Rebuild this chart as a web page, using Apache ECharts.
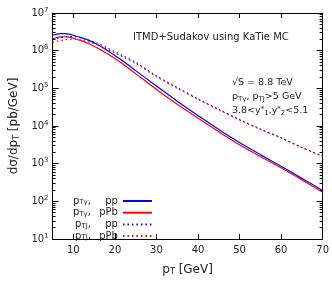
<!DOCTYPE html>
<html>
<head>
<meta charset="utf-8">
<script src="https://cdn.jsdelivr.net/npm/echarts@6/dist/echarts.min.js"></script>
<style>
  html, body { margin: 0; padding: 0; background: #fff; }
  #chart { width: 332px; height: 281px; }
</style>
</head>
<body>
<div id="chart"></div>
<script>
// pT values (GeV)
var ptValues = [5, 6, 7, 8, 9, 10, 12, 14, 16, 18, 20, 22, 25, 30, 35, 40, 45, 50, 55, 60, 65, 70];
// log10 of dsigma/dpT [pb/GeV]
var gammaPP  = [6.41, 6.44, 6.455, 6.455, 6.44, 6.41, 6.34, 6.26, 6.15, 6.02, 5.87, 5.72, 5.47, 5.06, 4.66, 4.28, 3.91, 3.56, 3.24, 2.93, 2.61, 2.29];
var gammaPPb = [6.32, 6.35, 6.365, 6.37, 6.36, 6.33, 6.26, 6.17, 6.06, 5.93, 5.79, 5.64, 5.39, 4.97, 4.58, 4.21, 3.85, 3.50, 3.19, 2.89, 2.57, 2.24];
var jetPP    = [6.30, 6.33, 6.35, 6.37, 6.375, 6.375, 6.34, 6.27, 6.19, 6.08, 5.97, 5.86, 5.69, 5.33, 5.02, 4.72, 4.44, 4.17, 3.92, 3.69, 3.43, 3.20];
var jetPPb   = [6.22, 6.25, 6.27, 6.29, 6.30, 6.305, 6.28, 6.22, 6.15, 6.05, 5.94, 5.83, 5.66, 5.31, 5.00, 4.71, 4.43, 4.16, 3.91, 3.68, 3.43, 3.19];
var xTicks = [10, 20, 30, 40, 50, 60, 70];

function toPairs(logs) {
  var out = [];
  for (var i = 0; i < ptValues.length; i++) {
    out.push([ptValues[i], Math.pow(10, logs[i])]);
  }
  return out;
}

var chart = echarts.init(document.getElementById("chart"));
var font = "DejaVu Sans";
var legendNames = {
  gpp: "{p|p}{sub|Tγ}{p|,}{c|pp}",
  gppb: "{p|p}{sub|Tγ}{p|,}{c|pPb}",
  jpp: "{p|p}{sub|TJ}{p|,}{c|pp}",
  jppb: "{p|p}{sub|TJ}{p|,}{c|pPb}"
};

function mkSeries(name, logs, color, dotted) {
  return {
    name: name,
    type: "line",
    data: toPairs(logs),
    showSymbol: false,
    symbol: "none",
    smooth: 0.3,
    lineStyle: { color: color, width: 1.2, type: dotted ? [1.5, 3] : "solid" },
    itemStyle: { color: color }
  };
}

var option = {
  animation: false,
  textStyle: { fontFamily: font },
  grid: { left: 47, right: 8, top: 13, bottom: 36 },
  title: {
    text: "ITMD+Sudakov using KaTie MC",
    left: 128, top: 27,
    textStyle: { fontFamily: font, fontSize: 10, fontWeight: "normal", color: "#222" }
  },
  graphic: [{
    type: "text",
    left: 232, top: 76,
    style: {
      text: "{p|√S = 8.8 TeV}\n{p|p}{s|Tγ}{p|, p}{s|TJ}{p|>5 GeV}\n{p|3.8<y}{u|*}{s|1}{p|,y}{u|*}{s|2}{p|<5.1}",
      fontFamily: font,
      fill: "#222",
      lineHeight: 14,
      rich: {
        p: { fontSize: 9.5, fontFamily: font, fill: "#222" },
        s: { fontSize: 7, fontFamily: font, fill: "#222", padding: [4, 0, 0, 0] },
        u: { fontSize: 7, fontFamily: font, fill: "#222", padding: [0, 0, 4, 0] }
      }
    }
  }],
  legend: {
    orient: "vertical",
    left: 68, top: 191,
    align: "right",
    itemWidth: 29, itemHeight: 8, itemGap: 1.7,
    itemStyle: { opacity: 0 },
    formatter: function (n) { return legendNames[n]; },
    textStyle: {
      fontFamily: font, fontSize: 10, color: "#222",
      rich: {
        p: { fontSize: 10, color: "#222" },
        sub: { fontSize: 7, color: "#222", padding: [3, 0, 0, 0] },
        c: { fontSize: 10, color: "#222", width: 27, align: "right" }
      }
    }
  },
  xAxis: [{
    type: "value",
    min: 5, max: 70,
    name: "{p|p}{s|T}{p| [GeV]}",
    nameLocation: "middle",
    nameGap: 24,
    nameTextStyle: {
      rich: {
        p: { fontSize: 12, color: "#222", fontFamily: font },
        s: { fontSize: 8, color: "#222", fontFamily: font, padding: [5, 0, 0, 0] }
      }
    },
    axisLine: { lineStyle: { color: "#000", width: 1 } },
    axisTick: { inside: true, length: 5, customValues: xTicks, lineStyle: { color: "#000" } },
    axisLabel: { customValues: xTicks, fontSize: 10, color: "#222", margin: 6 },
    splitLine: { show: false }
  }, {
    type: "value",
    position: "top",
    min: 5, max: 70,
    axisLine: { show: true, lineStyle: { color: "#000", width: 1 } },
    axisTick: { inside: true, length: 5, customValues: xTicks, lineStyle: { color: "#000" } },
    axisLabel: { show: false },
    splitLine: { show: false }
  }],
  yAxis: [{
    type: "log",
    min: 10, max: 1e7,
    name: "{p|dσ/dp}{s|T}{p| [pb/GeV]}",
    nameLocation: "middle",
    nameGap: 31,
    nameRotate: 90,
    nameTextStyle: {
      rich: {
        p: { fontSize: 12, color: "#222", fontFamily: font },
        s: { fontSize: 8, color: "#222", fontFamily: font, padding: [5, 0, 0, 0] }
      }
    },
    axisLine: { show: true, lineStyle: { color: "#000", width: 1 } },
    axisTick: { inside: true, length: 6, lineStyle: { color: "#000" } },
    minorTick: { show: true, splitNumber: 9, length: 3, lineStyle: { color: "#000" } },
    axisLabel: {
      margin: 4,
      formatter: function (v) {
        return "{b|10}{s|" + Math.round(Math.log10(v)) + "}";
      },
      rich: {
        b: { fontSize: 10, color: "#222", fontFamily: font },
        s: { fontSize: 7, color: "#222", fontFamily: font, padding: [0, 0, 6, 0] }
      }
    },
    splitLine: { show: false }
  }, {
    type: "log",
    position: "right",
    min: 10, max: 1e7,
    axisLine: { show: true, lineStyle: { color: "#000", width: 1 } },
    axisTick: { inside: true, length: 6, lineStyle: { color: "#000" } },
    minorTick: { show: true, splitNumber: 9, length: 3, lineStyle: { color: "#000" } },
    axisLabel: { show: false },
    splitLine: { show: false }
  }],
  series: [
    mkSeries("gpp", gammaPP, "#0000ff", false),
    mkSeries("gppb", gammaPPb, "#ff0000", false),
    mkSeries("jpp", jetPP, "#0000ff", true),
    mkSeries("jppb", jetPPb, "#ff0000", true)
  ]
};
chart.setOption(option);
</script>
</body>
</html>
